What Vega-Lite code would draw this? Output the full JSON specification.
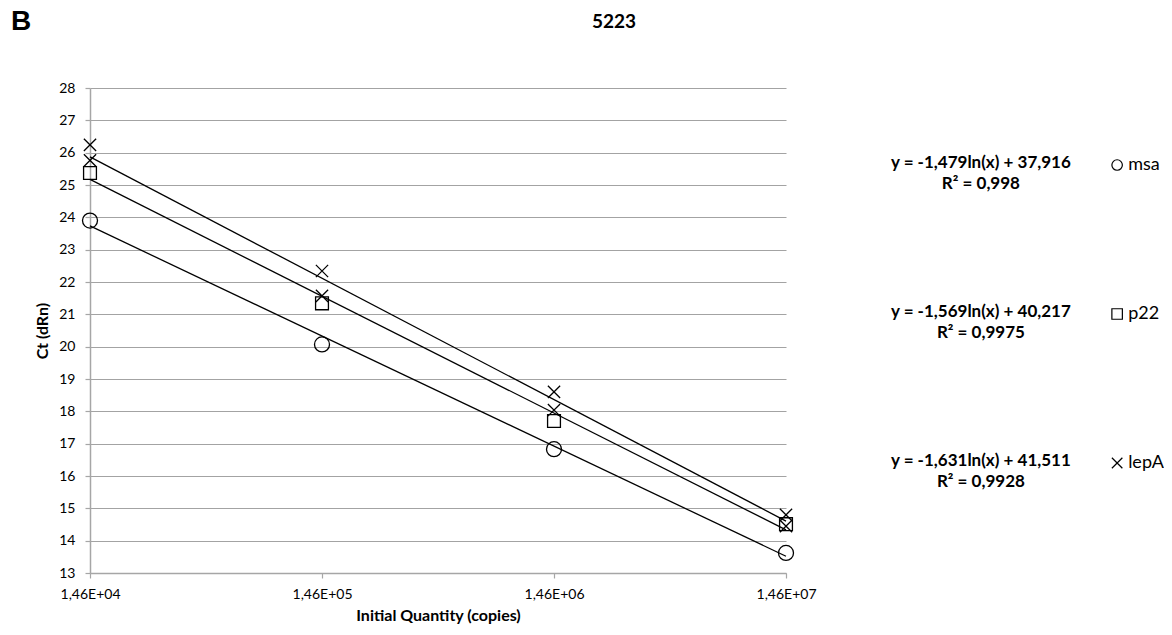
{
  "$schema": "https://vega.github.io/schema/vega-lite/v6.json",
  "background": "white",
  "padding": {"left": 11, "top": 8, "right": 0, "bottom": 4},
  "bounds": "flush",
  "spacing": 154,
  "config": {
    "view": {"stroke": null},
    "font": "Lato",
    "axis": {
      "labelFont": "Lato",
      "labelFontSize": 14,
      "labelColor": "#000000",
      "titleFont": "Lato",
      "titleFontSize": 16,
      "titleFontWeight": "bold",
      "titleColor": "#000000",
      "domainColor": "#a6a6a6",
      "domainWidth": 1.5,
      "tickColor": "#a6a6a6",
      "tickWidth": 1.2,
      "tickSize": 5,
      "gridColor": "#a3a3a3",
      "gridWidth": 1
    }
  },
  "datasets": {
    "measured": [
      {"series": "msa", "quantity": 14600, "ct": 23.9},
      {"series": "msa", "quantity": 146000, "ct": 20.07},
      {"series": "msa", "quantity": 1460000, "ct": 16.83},
      {"series": "msa", "quantity": 14600000, "ct": 13.62},
      {"series": "p22", "quantity": 14600, "ct": 25.37},
      {"series": "p22", "quantity": 146000, "ct": 21.34},
      {"series": "p22", "quantity": 1460000, "ct": 17.7},
      {"series": "p22", "quantity": 14600000, "ct": 14.51},
      {"series": "lepA", "quantity": 14600, "ct": 26.24},
      {"series": "lepA", "quantity": 146000, "ct": 22.34},
      {"series": "lepA", "quantity": 1460000, "ct": 18.6},
      {"series": "lepA", "quantity": 14600000, "ct": 14.8},
      {"series": "lepA", "quantity": 14600, "ct": 25.76},
      {"series": "lepA", "quantity": 146000, "ct": 21.57},
      {"series": "lepA", "quantity": 1460000, "ct": 18.04},
      {"series": "lepA", "quantity": 14600000, "ct": 14.45}
    ],
    "fits": [
      {"series": "msa", "quantity": 14600, "ct": 23.734},
      {"series": "msa", "quantity": 14600000, "ct": 13.518},
      {"series": "p22", "quantity": 14600, "ct": 25.172},
      {"series": "p22", "quantity": 14600000, "ct": 14.334},
      {"series": "lepA", "quantity": 14600, "ct": 25.872},
      {"series": "lepA", "quantity": 14600000, "ct": 14.605}
    ],
    "fitLabels": [
      {"series": "msa", "equation": "y = -1,479ln(x) + 37,916\nR² = 0,998"},
      {"series": "p22", "equation": "y = -1,569ln(x) + 40,217\nR² = 0,9975"},
      {"series": "lepA", "equation": "y = -1,631ln(x) + 41,511\nR² = 0,9928"}
    ]
  },
  "hconcat": [
    {
      "width": 696,
      "height": 485,
      "title": {
        "text": "B",
        "anchor": "start",
        "frame": "group",
        "dx": -79,
        "offset": 17,
        "baseline": "bottom",
        "font": "Liberation Sans",
        "fontSize": 28,
        "fontWeight": "bold",
        "color": "#000000"
      },
      "encoding": {
        "x": {
          "field": "quantity",
          "type": "quantitative",
          "scale": {"type": "log", "domain": [14600, 14600000], "nice": false},
          "axis": {
            "title": "Initial Quantity (copies)",
            "values": [14600, 146000, 1460000, 14600000],
            "labelExpr": "'1,46E+0' + round(log(datum.value) / LN10)",
            "labelFlush": false,
            "grid": false,
            "labelPadding": 9,
            "titlePadding": 6
          }
        },
        "y": {
          "field": "ct",
          "type": "quantitative",
          "scale": {"domain": [13, 28], "nice": false, "zero": false},
          "axis": {
            "title": "Ct (dRn)",
            "values": [13, 14, 15, 16, 17, 18, 19, 20, 21, 22, 23, 24, 25, 26, 27, 28],
            "grid": true,
            "labelPadding": 10,
            "titlePadding": 8
          }
        }
      },
      "layer": [
        {
          "data": {"name": "fits"},
          "mark": {"type": "line", "color": "#000000", "strokeWidth": 1.3},
          "encoding": {"detail": {"field": "series"}}
        },
        {
          "data": {"name": "measured"},
          "transform": [{"filter": {"field": "series", "equal": "msa"}}],
          "mark": {"type": "point", "shape": "circle", "size": 225, "filled": false, "stroke": "#000000", "strokeWidth": 1.3, "opacity": 1}
        },
        {
          "data": {"name": "measured"},
          "transform": [{"filter": {"field": "series", "equal": "p22"}}],
          "mark": {"type": "point", "shape": "square", "size": 165, "filled": false, "stroke": "#000000", "strokeWidth": 1.3, "opacity": 1}
        },
        {
          "data": {"name": "measured"},
          "transform": [{"filter": {"field": "series", "equal": "lepA"}}],
          "mark": {"type": "point", "shape": "M-1,-1L1,1M-1,1L1,-1", "size": 150, "filled": false, "stroke": "#000000", "strokeWidth": 1.3, "opacity": 1}
        }
      ]
    },
    {
      "width": 218,
      "height": 472,
      "title": {
        "text": "5223",
        "anchor": "start",
        "align": "center",
        "frame": "group",
        "dx": -326,
        "offset": 37,
        "baseline": "bottom",
        "font": "Lato",
        "fontSize": 19,
        "fontWeight": "bold",
        "color": "#000000"
      },
      "data": {"name": "fitLabels"},
      "encoding": {
        "y": {
          "field": "series",
          "type": "nominal",
          "scale": {"type": "point", "domain": ["msa", "p22", "lepA"], "padding": 0.584},
          "axis": null
        }
      },
      "layer": [
        {
          "mark": {"type": "text", "font": "Lato", "fontWeight": "bold", "fontSize": 17, "lineBreak": "\n", "lineHeight": 21, "align": "center", "baseline": "middle", "dy": -12, "color": "#000000"},
          "encoding": {
            "x": {"datum": "eq", "type": "nominal", "scale": {"type": "point", "domain": ["eq", "key"], "padding": 0.3}, "axis": null},
            "text": {"field": "equation"}
          }
        },
        {
          "mark": {"type": "point", "size": 110, "filled": false, "stroke": "#000000", "strokeWidth": 1.2, "opacity": 1, "yOffset": -10},
          "encoding": {
            "x": {"datum": "key", "type": "nominal"},
            "shape": {
              "field": "series",
              "type": "nominal",
              "scale": {"domain": ["msa", "p22", "lepA"], "range": ["circle", "square", "M-1,-1L1,1M-1,1L1,-1"]},
              "legend": null
            }
          }
        },
        {
          "mark": {"type": "text", "font": "Lato", "fontSize": 18, "align": "left", "baseline": "middle", "dx": 11, "dy": -10, "color": "#000000"},
          "encoding": {
            "x": {"datum": "key", "type": "nominal"},
            "text": {"field": "series"}
          }
        }
      ]
    }
  ]
}
